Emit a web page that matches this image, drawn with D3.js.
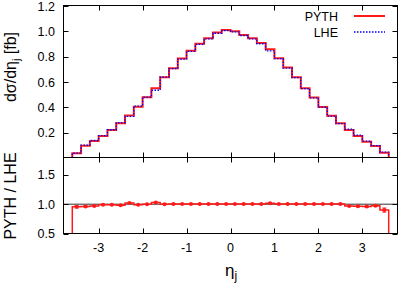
<!DOCTYPE html>
<html>
<head>
<meta charset="utf-8">
<script src="https://cdn.jsdelivr.net/npm/d3@7"></script>
<style>
  body { margin: 0; background: #fff; }
  text { font-family: "Liberation Sans", Arial, sans-serif; fill: #000; }
</style>
</head>
<body>
<svg id="chart" width="399" height="286"></svg>
<script>
// bin low edges, width 0.2
const binLow = [-3.6, -3.4, -3.2, -3.0, -2.8, -2.6, -2.4, -2.2, -2.0, -1.8, -1.6, -1.4,
  -1.2, -1.0, -0.8, -0.6, -0.4, -0.2, 0.0, 0.2, 0.4, 0.6, 0.8, 1.0,
  1.2, 1.4, 1.6, 1.8, 2.0, 2.2, 2.4, 2.6, 2.8, 3.0, 3.2, 3.4];
const binWidth = 0.2;

const pyth = [0.037, 0.097, 0.134, 0.174, 0.221, 0.274, 0.335, 0.405, 0.480, 0.551, 0.638, 0.709,
  0.785, 0.846, 0.901, 0.946, 0.990, 1.010, 1.000, 0.972, 0.946, 0.907, 0.859, 0.788,
  0.714, 0.638, 0.551, 0.477, 0.403, 0.333, 0.274, 0.221, 0.174, 0.129, 0.095, 0.042];

const lhe = [0.039, 0.101, 0.138, 0.176, 0.223, 0.279, 0.328, 0.409, 0.480, 0.535, 0.638, 0.706,
  0.781, 0.842, 0.897, 0.941, 0.985, 1.005, 0.995, 0.967, 0.941, 0.902, 0.846, 0.784,
  0.710, 0.635, 0.548, 0.475, 0.401, 0.331, 0.272, 0.228, 0.180, 0.134, 0.097, 0.047];

const ratio = [0.955, 0.96, 0.97, 0.99, 0.99, 0.98, 1.02, 0.99, 1.0, 1.03, 1.0, 1.005,
  1.005, 1.005, 1.005, 1.005, 1.005, 1.005, 1.005, 1.005, 1.005, 1.005, 1.015, 1.005,
  1.005, 1.005, 1.005, 1.005, 1.005, 1.005, 1.005, 0.97, 0.965, 0.96, 0.975, 0.90];
const ratioErr = [0.02, 0.012, 0.01, 0.008, 0.008, 0.008, 0.007, 0.006, 0.006, 0.006, 0.006, 0.005,
  0.005, 0.005, 0.005, 0.005, 0.005, 0.005, 0.005, 0.005, 0.005, 0.005, 0.005, 0.005,
  0.005, 0.006, 0.006, 0.006, 0.006, 0.007, 0.008, 0.008, 0.01, 0.012, 0.014, 0.035];

const xTicks = [-3, -2, -1, 0, 1, 2, 3];
const yTopTicks = [0.2, 0.4, 0.6, 0.8, 1.0, 1.2];
const yBotTicks = [0.5, 1.0, 1.5];

const svg = d3.select('#chart');
const left = 63.5, right = 397.5;
const topY = 5.5, midY = 157.5, botY = 233.5;
const tickLen = 5;
const fs = 12.5;

let x = d3.scaleLinear().domain([-3.8, 3.8]).range([left, right]);
let yTop = d3.scaleLinear().domain([0, 1.2]).range([158, 6]);
let yBot = d3.scaleLinear().domain([0.5, 1.8]).range([233.5, 157.3]);

svg.append('clipPath').attr('id', 'clipTop')
  .append('rect').attr('x', left).attr('y', topY).attr('width', right - left).attr('height', midY - topY);
svg.append('clipPath').attr('id', 'clipBot')
  .append('rect').attr('x', left).attr('y', midY).attr('width', right - left).attr('height', botY - midY);

// step path through bins, dropping to a base value at both ends
function stepPath(vals, yScale, base) {
  let pts = [[binLow[0], base]];
  vals.forEach((v, i) => pts.push([binLow[i], v]));
  let last = binLow[binLow.length - 1] + binWidth;
  pts.push([last, vals[vals.length - 1]]);
  pts.push([last, base]);
  return d3.line()
    .x(d => x(d[0]))
    .y(d => yScale(d[1]))
    .curve(d3.curveStepAfter)(pts);
}

// ---------- upper panel ----------
let gTop = svg.append('g').attr('clip-path', 'url(#clipTop)');
gTop.append('path')
  .attr('d', stepPath(pyth, yTop, 0))
  .attr('fill', 'none')
  .attr('stroke', '#ff1a1a')
  .attr('stroke-width', 2);
gTop.append('path')
  .attr('d', stepPath(lhe, yTop, 0))
  .attr('fill', 'none')
  .attr('stroke', '#0000ff')
  .attr('stroke-width', 1.3)
  .attr('stroke-dasharray', '1.5,1.5');

// ---------- lower panel ----------
let gBot = svg.append('g').attr('clip-path', 'url(#clipBot)');
gBot.append('line')
  .attr('x1', left).attr('x2', right)
  .attr('y1', yBot(1)).attr('y2', yBot(1))
  .attr('stroke', '#333').attr('stroke-width', 1);
gBot.append('path')
  .attr('d', stepPath(ratio, yBot, 0.3))
  .attr('fill', 'none')
  .attr('stroke', '#ff1a1a')
  .attr('stroke-width', 1.5);

let pts = gBot.selectAll('.pt')
  .data(ratio.map((r, i) => ({ c: binLow[i] + binWidth / 2, r: r, e: ratioErr[i] })))
  .enter().append('g')
  .attr('class', 'pt');
pts.append('line')
  .attr('x1', d => x(d.c)).attr('x2', d => x(d.c))
  .attr('y1', d => yBot(d.r - d.e)).attr('y2', d => yBot(d.r + d.e))
  .attr('stroke', '#ff1a1a').attr('stroke-width', 1);
pts.append('line')
  .attr('x1', d => x(d.c) - 2).attr('x2', d => x(d.c) + 2)
  .attr('y1', d => yBot(d.r - d.e)).attr('y2', d => yBot(d.r - d.e))
  .attr('stroke', '#ff1a1a').attr('stroke-width', 1);
pts.append('line')
  .attr('x1', d => x(d.c) - 2).attr('x2', d => x(d.c) + 2)
  .attr('y1', d => yBot(d.r + d.e)).attr('y2', d => yBot(d.r + d.e))
  .attr('stroke', '#ff1a1a').attr('stroke-width', 1);
pts.append('circle')
  .attr('cx', d => x(d.c)).attr('cy', d => yBot(d.r))
  .attr('r', 2).attr('fill', '#ff1a1a');

// ---------- frames and ticks ----------
let frame = svg.append('g').attr('stroke', '#000').attr('fill', 'none');
frame.append('rect').attr('x', left).attr('y', topY).attr('width', right - left).attr('height', midY - topY);
frame.append('rect').attr('x', left).attr('y', midY).attr('width', right - left).attr('height', botY - midY);

let ticks = svg.append('g').attr('stroke', '#000').attr('stroke-width', 1);
xTicks.forEach(t => {
  let px = Math.round(x(t)) + 0.5;
  [[topY, topY + tickLen], [midY - tickLen, midY + tickLen], [botY - tickLen, botY]].forEach(s => {
    ticks.append('line').attr('x1', px).attr('x2', px).attr('y1', s[0]).attr('y2', s[1]);
  });
});
yTopTicks.forEach(t => {
  let py = Math.round(yTop(t)) + 0.5;
  ticks.append('line').attr('x1', left).attr('x2', left + tickLen).attr('y1', py).attr('y2', py);
  ticks.append('line').attr('x1', right - tickLen).attr('x2', right).attr('y1', py).attr('y2', py);
});
yBotTicks.forEach(t => {
  let py = Math.round(yBot(t)) + 0.5;
  ticks.append('line').attr('x1', left).attr('x2', left + tickLen).attr('y1', py).attr('y2', py);
  ticks.append('line').attr('x1', right - tickLen).attr('x2', right).attr('y1', py).attr('y2', py);
});

// ---------- tick labels ----------
svg.selectAll('.xl').data(xTicks).enter().append('text')
  .attr('x', d => x(d)).attr('y', 251.5)
  .attr('text-anchor', 'middle').attr('font-size', fs)
  .text(d => d);
svg.selectAll('.ytl').data(yTopTicks).enter().append('text')
  .attr('x', 55).attr('y', d => yTop(d) + 4.5)
  .attr('text-anchor', 'end').attr('font-size', fs)
  .text(d => d.toFixed(1));
svg.selectAll('.ybl').data(yBotTicks).enter().append('text')
  .attr('x', 55).attr('y', d => yBot(d) + 4.5)
  .attr('text-anchor', 'end').attr('font-size', fs)
  .text(d => d.toFixed(1));

// ---------- axis titles ----------
let yt = svg.append('text')
  .attr('transform', 'translate(16,67) rotate(-90)')
  .attr('text-anchor', 'middle').attr('font-size', 16);
yt.append('tspan').text('dσ/dη');
yt.append('tspan').attr('font-size', 11).attr('dy', 4).text('j');
yt.append('tspan').attr('dy', -4).text(' [fb]');

svg.append('text')
  .attr('transform', 'translate(16,196) rotate(-90)')
  .attr('text-anchor', 'middle').attr('font-size', 16)
  .text('PYTH / LHE');

let xt = svg.append('text')
  .attr('x', 231).attr('y', 276)
  .attr('text-anchor', 'middle').attr('font-size', 17);
xt.append('tspan').text('η');
xt.append('tspan').attr('font-size', 12).attr('dy', 4).text('j');

// ---------- legend ----------
let legend = [
  { name: 'PYTH', color: '#ff1a1a', dash: null, w: 2, y: 16 },
  { name: 'LHE', color: '#0000ff', dash: '1.5,1.5', w: 1.3, y: 32 }
];
let lg = svg.selectAll('.lg').data(legend).enter().append('g');
lg.append('text')
  .attr('x', 338).attr('y', d => d.y + 4.5)
  .attr('text-anchor', 'end').attr('font-size', fs)
  .text(d => d.name);
lg.append('line')
  .attr('x1', 354).attr('x2', 385)
  .attr('y1', d => d.y).attr('y2', d => d.y)
  .attr('stroke', d => d.color)
  .attr('stroke-width', d => d.w)
  .attr('stroke-dasharray', d => d.dash);
</script>
</body>
</html>
